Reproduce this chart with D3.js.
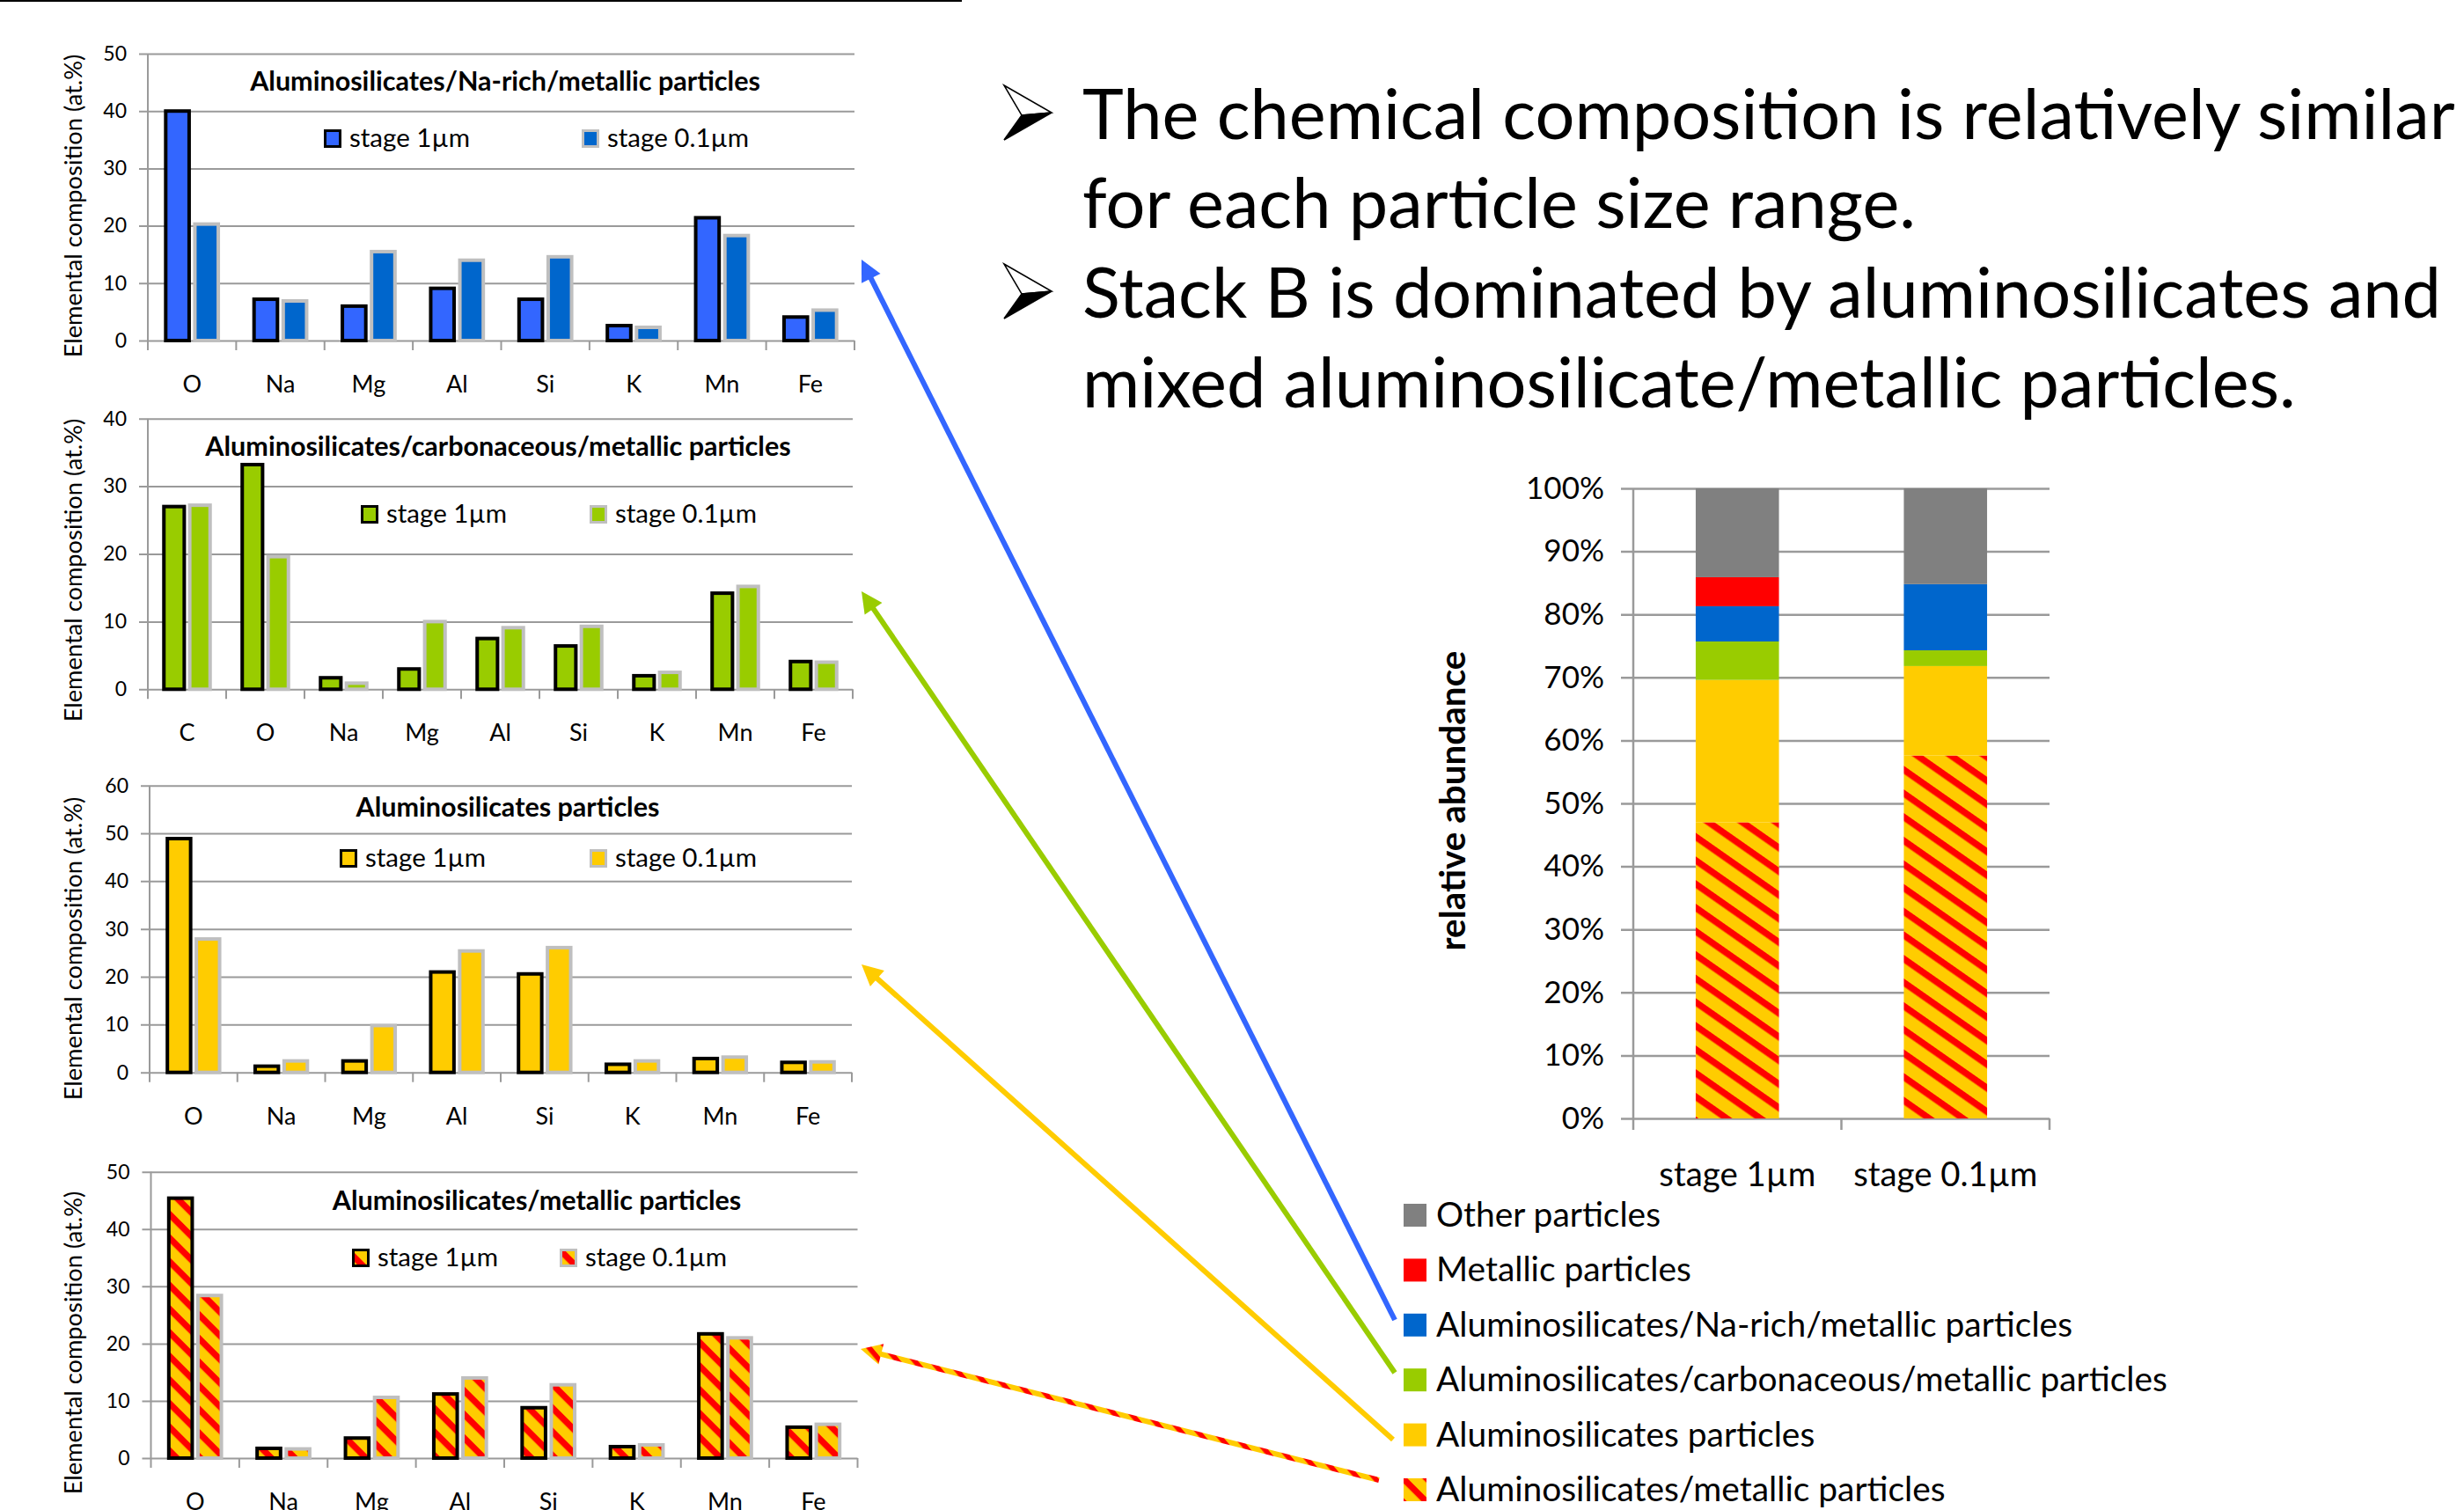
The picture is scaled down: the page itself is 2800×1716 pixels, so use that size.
<!DOCTYPE html>
<html><head><meta charset="utf-8">
<script src="https://cdnjs.cloudflare.com/ajax/libs/d3/7.8.5/d3.min.js"></script>
<style>html,body{margin:0;padding:0;background:#fff;} svg{display:block;} text{font-family:Lato,"Open Sans",sans-serif;fill:#000;}</style>
</head><body><svg id="c" width="2800" height="1716"></svg>
<script>
// ---------- DATA ----------
const elementsA = ["O","Na","Mg","Al","Si","K","Mn","Fe"];
const elementsC = ["C","O","Na","Mg","Al","Si","K","Mn","Fe"];
const stageNames = ["stage 1µm","stage 0.1µm"];

const naRich1um  = [40.0, 7.2, 6.0, 9.1, 7.2, 2.6, 21.4, 4.1];
const naRich01um = [20.3, 6.9, 15.5, 14.0, 14.6, 2.3, 18.3, 5.3];
const carb1um    = [27.0, 33.2, 1.7, 3.0, 7.5, 6.4, 2.0, 14.2, 4.1];
const carb01um   = [27.2, 19.6, 0.9, 10.0, 9.1, 9.3, 2.5, 15.2, 4.0];
const alum1um    = [48.9, 1.3, 2.4, 21.0, 20.6, 1.7, 2.9, 2.1];
const alum01um   = [27.9, 2.4, 9.8, 25.4, 26.1, 2.4, 3.2, 2.2];
const almet1um   = [45.4, 1.7, 3.5, 11.2, 8.8, 2.0, 21.7, 5.4];
const almet01um  = [28.4, 1.6, 10.6, 14.0, 12.8, 2.3, 21.0, 5.9];

const panelTitles = ["Aluminosilicates/Na-rich/metallic particles","Aluminosilicates/carbonaceous/metallic particles","Aluminosilicates particles","Aluminosilicates/metallic particles"];
const panelMax = [50, 40, 60, 50];
const yAxisTitle = "Elemental composition (at.%)";

// stacked bar (bottom -> top)
const particleClasses = ["Aluminosilicates/metallic particles","Aluminosilicates particles","Aluminosilicates/carbonaceous/metallic particles","Aluminosilicates/Na-rich/metallic particles","Metallic particles","Other particles"];
const share1um  = [47.0, 22.6, 6.1, 5.6, 4.6, 14.1];
const share01um = [57.6, 14.2, 2.5, 10.5, 0.0, 15.2];
const stackTicks = [0,10,20,30,40,50,60,70,80,90,100];
const stackYTitle = "relative abundance";

const bullets = [["The chemical composition is relatively similar","for each particle size range."],["Stack B is dominated by aluminosilicates and","mixed aluminosilicate/metallic particles."]];

// ---------- LAYOUT / STYLE ----------
const svg = d3.select("#c");
const defs = svg.append("defs");
function stripes(id, period, redFrac, angle){
  const p = defs.append("pattern").attr("id",id).attr("patternUnits","userSpaceOnUse")
    .attr("width",period).attr("height",period).attr("patternTransform",`rotate(${angle})`);
  p.append("rect").attr("width",period).attr("height",period).attr("fill","#FFCC00");
  p.append("rect").attr("width",period).attr("height",period*redFrac).attr("fill","#FF0000");
}
stripes("hatchBar",19,0.38,45);
stripes("hatchStack",22,0.34,35);
stripes("hatchArrow",15,0.38,50);

const GRID = "#9a9a9a";
function fit(sel, target){ sel.attr("font-size",100); const L = sel.node().getComputedTextLength(); return 100*target/L; }

svg.append("rect").attr("x",0).attr("y",0).attr("width",1093).attr("height",2).attr("fill","#000");

const panelLayout = [
 {x0:168,x1:971,yTop:61,yBot:387,titleX:574,titleY:103,legY:147,legX:[368,661],yTitleY:234},
 {x0:168,x1:969,yTop:475.7,yBot:783.3,titleX:566,titleY:518,legY:574,legX:[410,670],yTitleY:648},
 {x0:170,x1:968,yTop:892.7,yBot:1218.7,titleX:577,titleY:928,legY:965,legX:[386,670],yTitleY:1078},
 {x0:171.5,x1:974.5,yTop:1331.7,yBot:1657,titleX:610,titleY:1375,legY:1419,legX:[400,636],yTitleY:1526}
];
const panelData = [
 {cats:elementsA, v1:naRich1um, v2:naRich01um},
 {cats:elementsC, v1:carb1um, v2:carb01um},
 {cats:elementsA, v1:alum1um, v2:alum01um},
 {cats:elementsA, v1:almet1um, v2:almet01um}
];
const panelFill = [["#3366FF","#0066CC"],["#99CC00","#99CC00"],["#FFCC00","#FFCC00"],["url(#hatchBar)","url(#hatchBar)"]];
const borderColor = ["#000000","#BFBFBF"];

let tmp = svg.append("text").attr("font-weight",700).text(panelTitles[0]);
const titleSize = fit(tmp, 580); tmp.remove();
tmp = svg.append("text").text(stageNames[0]);
const legSize = fit(tmp, 137); tmp.remove();
tmp = svg.append("text").text(yAxisTitle);
const yTitleSize = fit(tmp, 345); tmp.remove();

panelLayout.forEach((L, pi) => {
  const D = panelData[pi];
  const g = svg.append("g");
  const x = d3.scaleBand().domain(D.cats).range([L.x0, L.x1]).paddingInner(0).paddingOuter(0);
  const y = d3.scaleLinear().domain([0, panelMax[pi]]).range([L.yBot, L.yTop]);
  const ya = g.append("g").attr("transform",`translate(${L.x1},0)`)
    .call(d3.axisLeft(y).tickValues(d3.range(0, panelMax[pi]+1, 10)).tickSize(L.x1-L.x0+10).tickPadding(14));
  ya.select(".domain").remove();
  ya.selectAll("line").attr("stroke",GRID).attr("stroke-width",2);
  ya.selectAll("text").attr("font-family","Lato").attr("font-size",23).attr("fill","#000");
  g.append("line").attr("x1",L.x0).attr("x2",L.x0).attr("y1",L.yTop).attr("y2",L.yBot+11).attr("stroke",GRID).attr("stroke-width",2);
  D.cats.forEach((c,i)=>{
    const bx = x(c) + x.bandwidth();
    g.append("line").attr("x1",bx).attr("x2",bx).attr("y1",L.yBot).attr("y2",L.yBot+11).attr("stroke",GRID).attr("stroke-width",2);
  });
  const xa = g.append("g").attr("transform",`translate(0,${L.yBot})`).call(d3.axisBottom(x).tickSize(0).tickPadding(0));
  xa.select(".domain").remove();
  xa.selectAll("text").attr("font-family","Lato").attr("font-size",27).attr("fill","#000").attr("dy",null).attr("y",59);
  const bw = x.bandwidth(), outer = 0.305*bw, gap = 0.025*bw, sw = 4;
  [D.v1, D.v2].forEach((vals, si) => {
    g.selectAll(null).data(D.cats).enter().append("rect")
      .attr("x", (c)=> x(c) + (bw-(2*outer+gap))/2 + si*(outer+gap) + sw/2)
      .attr("width", outer - sw)
      .attr("y", (c,i)=> y(vals[i]))
      .attr("height", (c,i)=> y(0)-y(vals[i]))
      .attr("fill", panelFill[pi][si]).attr("stroke", borderColor[si]).attr("stroke-width", sw);
  });
  g.append("text").attr("x",L.titleX).attr("y",L.titleY).attr("text-anchor","middle").attr("font-weight",700).attr("font-size",titleSize).text(panelTitles[pi]);
  stageNames.forEach((s, si)=>{
    g.append("rect").attr("x",L.legX[si]+1.5).attr("y",L.legY+1.5).attr("width",17).attr("height",18)
      .attr("fill",panelFill[pi][si]).attr("stroke",borderColor[si]).attr("stroke-width",3);
    g.append("text").attr("x",L.legX[si]+29).attr("y",L.legY+20).attr("font-size",legSize).text(s);
  });
  g.append("text").attr("transform",`translate(93,${L.yTitleY}) rotate(-90)`).attr("text-anchor","middle").attr("font-size",yTitleSize).text(yAxisTitle);
});

// ---------- STACKED CHART ----------
const S = {x0:1856, x1:2329, yTop:555, yBot:1271};
const gs = svg.append("g");
const xs = d3.scaleBand().domain(stageNames).range([S.x0,S.x1]).paddingInner(0.6).paddingOuter(0.3);
const ys = d3.scaleLinear().domain([0,100]).range([S.yBot,S.yTop]);
const ysa = gs.append("g").attr("transform",`translate(${S.x1},0)`)
  .call(d3.axisLeft(ys).tickValues(stackTicks).tickFormat(d=>d+"%").tickSize(S.x1-S.x0+14).tickPadding(19));
ysa.select(".domain").remove();
ysa.selectAll("line").attr("stroke",GRID).attr("stroke-width",2.5);
ysa.selectAll("text").attr("font-family","Lato").attr("font-size",35).attr("fill","#000");
gs.append("line").attr("x1",S.x0).attr("x2",S.x0).attr("y1",S.yTop).attr("y2",S.yBot+13).attr("stroke",GRID).attr("stroke-width",2.5);
const stepS = (S.x1-S.x0)/stageNames.length;
stageNames.forEach((s,i)=>{
  const bx = S.x0 + (i+1)*stepS;
  gs.append("line").attr("x1",bx).attr("x2",bx).attr("y1",S.yBot).attr("y2",S.yBot+13).attr("stroke",GRID).attr("stroke-width",2.5);
});
const stackRows = stageNames.map((s,i)=>{ const r={stage:s}; particleClasses.forEach((c,k)=> r[c] = (i===0?share1um:share01um)[k]); return r; });
const series = d3.stack().keys(particleClasses)(stackRows);
const classFill = ["url(#hatchStack)","#FFCC00","#99CC00","#0066CC","#FF0000","#808080"];
series.forEach((ser,k)=>{
  gs.selectAll(null).data(ser).enter().append("rect")
    .attr("x", d=> xs(d.data.stage)).attr("width", xs.bandwidth())
    .attr("y", d=> ys(d[1])).attr("height", d=> ys(d[0])-ys(d[1]))
    .attr("fill", classFill[k]);
});
tmp = svg.append("text").text(stageNames[0]);
const sxSize = fit(tmp, 178); tmp.remove();
stageNames.forEach(s=>{
  gs.append("text").attr("x", xs(s)+xs.bandwidth()/2).attr("y",1348).attr("text-anchor","middle").attr("font-size",sxSize).text(s);
});
tmp = gs.append("text").attr("font-weight",700).attr("transform","translate(1665,910) rotate(-90)").attr("text-anchor","middle").text(stackYTitle);
tmp.attr("font-size", fit(tmp, 341));

const legendOrder = particleClasses.map((c,k)=>k).reverse();
tmp = svg.append("text").text(particleClasses[2]);
const bigLeg = fit(tmp, 831); tmp.remove();
legendOrder.forEach((k, i)=>{
  const top = 1368 + i*62.4;
  gs.append("rect").attr("x",1595).attr("y",top).attr("width",26).attr("height",26).attr("fill", k===0 ? "url(#hatchBar)" : classFill[k]);
  gs.append("text").attr("x",1632).attr("y",top+26).attr("font-size",bigLeg).text(particleClasses[k]);
});

// ---------- BULLET TEXT ----------
tmp = svg.append("text").text(bullets[0][0]);
const bulletSize = fit(tmp, 1560); tmp.remove();
const baselines = [[158,259],[361,463]];
bullets.forEach((lines, bi)=>{
  const c = baselines[bi][0] - 30, x0 = 1141;
  svg.append("path").attr("d",`M${x0},${c-31} L${x0+54},${c} L${x0+20},${c+3} Z`).attr("fill","#fff").attr("stroke","#000").attr("stroke-width",1.5);
  svg.append("path").attr("d",`M${x0},${c+31} L${x0+54},${c} L${x0+20},${c+3} Z`).attr("fill","#000").attr("stroke","#000").attr("stroke-width",1.5);
  lines.forEach((t,li)=>{
    svg.append("text").attr("x",1230).attr("y",baselines[bi][li]).attr("font-size",bulletSize).text(t);
  });
});

// ---------- ARROWS ----------
function arrow(x1,y1,x2,y2,paint){
  const dx=x2-x1, dy=y2-y1, len=Math.hypot(dx,dy), ux=dx/len, uy=dy/len;
  const hl=24, hw=12, bx=x2-ux*hl, by=y2-uy*hl;
  svg.append("line").attr("x1",x1).attr("y1",y1).attr("x2",bx+ux*2).attr("y2",by+uy*2).attr("stroke",paint).attr("stroke-width",6);
  svg.append("path").attr("d",`M${x2},${y2} L${bx-uy*hw},${by+ux*hw} L${bx+uy*hw},${by-ux*hw} Z`).attr("fill",paint);
}
arrow(1585,1500,979,295,"#3366FF");
arrow(1585,1560,979,672,"#99CC00");
arrow(1583,1636,979,1096,"#FFCC00");
arrow(1567,1682,978,1533,"url(#hatchArrow)");
</script></body></html>
